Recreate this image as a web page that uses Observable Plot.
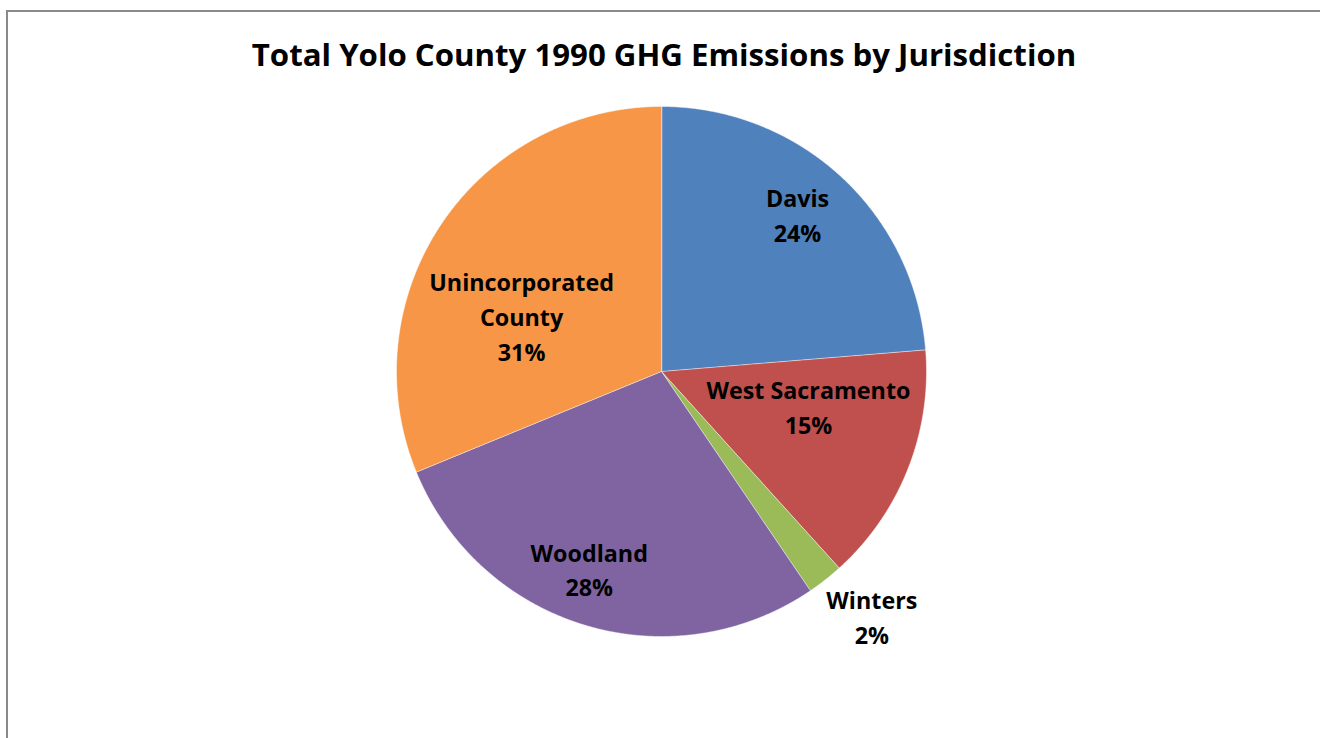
<!DOCTYPE html>
<html>
<head>
<meta charset="utf-8">
<script src="https://cdn.jsdelivr.net/npm/d3@7"></script>
<script src="https://cdn.jsdelivr.net/npm/@observablehq/plot@0.6"></script>
<style>
  html, body { margin: 0; padding: 0; background: #fff; overflow: hidden; }
  #frame { position: absolute; left: 6px; top: 10px; width: 3000px; height: 3000px;
           border-left: 2px solid #8a8a8a; border-top: 2px solid #8a8a8a; pointer-events: none; }
  #title { height: 90px; box-sizing: border-box; padding-top: 34px; text-align: center;
           font-family: "Open Sans", sans-serif; font-weight: 700; font-size: 31.2px; line-height: 40px;
           color: #000; padding-left: 8px; }
  #chart { position: relative; }
</style>
</head>
<body>
<div id="frame"></div>
<div id="title">Total Yolo County 1990 GHG Emissions by Jurisdiction</div>
<div id="chart"></div>
<script>
// ---- data ----
const categories = ["Davis", "West Sacramento", "Winters", "Woodland", "Unincorporated County"];
const shares = [23.7, 14.6, 2.2, 28.3, 31.2];
const percentLabels = ["24%", "15%", "2%", "28%", "31%"];
const labelNames = ["Davis", "West Sacramento", "Winters", "Woodland", "Unincorporated\nCounty"];
const colors = ["#4F81BD", "#C0504D", "#9BBB59", "#8064A2", "#F79646"];

// ---- layout ----
const W = 1320, H = 648;
const cx = 661, cy = 281, R = 265;
const labelDY = -3;
// label placement: bearing (deg) shift from slice mid-angle, and distance as fraction of radius
const labelAngleShift = [-1.5, -7.4, -2.3, 3.2, -12.7];
const labelRadiusFrac = [0.78, 0.572, 1.223, 0.80, 0.566];

const rows = categories.map((c, i) => ({category: c, value: shares[i], color: colors[i],
  label: labelNames[i] + "\n" + percentLabels[i], i}));
const arcs = d3.pie().sort(null).value(d => d.value).startAngle(0).endAngle(2 * Math.PI)(rows);

const pt = (a, r) => [cx + r * Math.sin(a), cy - r * Math.cos(a)];
const slices = {
  type: "FeatureCollection",
  features: arcs.map(a => {
    const n = Math.max(4, Math.ceil((a.endAngle - a.startAngle) / (Math.PI / 720)));
    const ring = [[cx, cy]];
    for (let k = 0; k <= n; k++) ring.push(pt(a.startAngle + (a.endAngle - a.startAngle) * k / n, R));
    ring.push([cx, cy]);
    return {type: "Feature", properties: {color: a.data.color}, geometry: {type: "Polygon", coordinates: [ring]}};
  })
};
const labels = arcs.map(a => {
  const i = a.data.i;
  const mid = (a.startAngle + a.endAngle) / 2 + labelAngleShift[i] * Math.PI / 180;
  const [x, y] = pt(mid, R * labelRadiusFrac[i]);
  return {x, y: y + labelDY, text: a.data.label};
});

const chart = Plot.plot({
  width: W, height: H, margin: 0,
  projection: {type: "identity"},
  style: {background: "transparent"},
  marks: [
    Plot.geo(slices, {fill: d => d.properties.color, stroke: "#ffffff", strokeWidth: 0.8, strokeOpacity: 0.6}),
    Plot.text(labels, {x: "x", y: "y", text: "text", fill: "#000", fontSize: 23.3, fontWeight: 700,
      fontFamily: "Open Sans", lineHeight: 1.5, lineAnchor: "middle", textAnchor: "middle"})
  ]
});
document.getElementById("chart").appendChild(chart);
</script>
</body>
</html>
